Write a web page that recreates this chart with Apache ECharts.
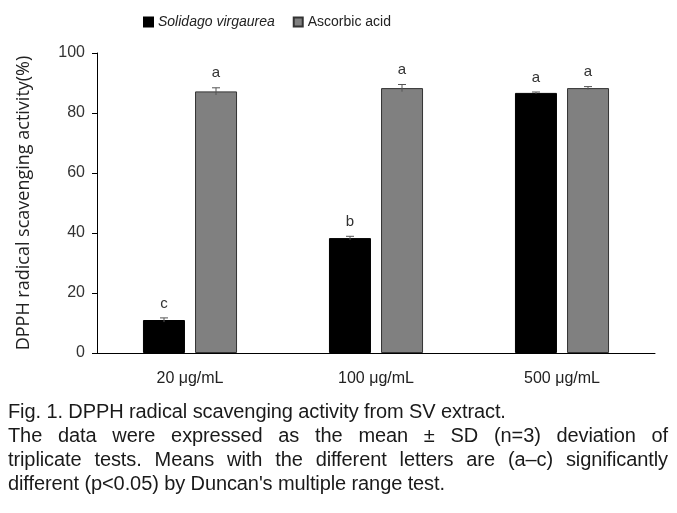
<!DOCTYPE html>
<html><head><meta charset="utf-8">
<script src="https://cdn.jsdelivr.net/npm/echarts@6/dist/echarts.min.js"></script>
<style>
html,body{margin:0;padding:0;background:#fff;}
#c{width:677px;height:400px;}
#cap{position:absolute;left:8px;top:399px;width:660px;font-family:"Liberation Sans",sans-serif;font-size:20px;line-height:24px;color:#1a1a1a;letter-spacing:-0.1px;}
#cap div{text-align:justify;text-align-last:justify;white-space:nowrap;}
#cap div.l{text-align-last:left;}
</style></head>
<body>
<div id="c"></div>
<div id="cap">
<div class="l">Fig. 1. DPPH radical scavenging activity from SV extract.</div>
<div>The data were expressed as the mean ± SD (n=3) deviation of</div>
<div>triplicate tests. Means with the different letters are (a–c) significantly</div>
<div class="l">different (p&lt;0.05) by Duncan's multiple range test.</div>
</div>
<script>
var categories = ['20 μg/mL', '100 μg/mL', '500 μg/mL'];
var svValues = [11.0, 38.3, 86.7];
var svErrors = [0.7, 0.6, 0.3];
var svLetters = ['c', 'b', 'a'];
var aaValues = [87.2, 88.3, 88.3];
var aaErrors = [1.2, 1.2, 0.5];
var aaLetters = ['a', 'a', 'a'];
var yTicks = [0, 20, 40, 60, 80, 100];

var chart = echarts.init(document.getElementById('c'));
var font = '"Liberation Sans", sans-serif';
var BW = 42, OFF = 26;

function errSeries(vals, errs, letters, sign) {
  var data = vals.map(function (v, i) { return [i, v, errs[i], letters[i]]; });
  return {
    type: 'custom',
    silent: true,
    z: 5,
    data: data,
    renderItem: function (params, api) {
      var i = api.value(0), v = api.value(1), e = api.value(2);
      var p = api.coord([i, v]);
      var x = p[0] + sign * OFF;
      var top = api.coord([i, v + e])[1];
      var bot = api.coord([i, v - e])[1];
      var st = { stroke: '#555', lineWidth: 1 };
      return {
        type: 'group',
        children: [
          { type: 'line', shape: { x1: x, y1: top, x2: x, y2: bot }, style: st },
          { type: 'line', shape: { x1: x - 4, y1: top, x2: x + 4, y2: top }, style: st },
          { type: 'text', style: { text: data[params.dataIndex][3], x: x, y: top - 7, align: 'center', verticalAlign: 'bottom', font: '15px ' + font, fill: '#333' } }
        ]
      };
    }
  };
}

chart.setOption({
  animation: false,
  backgroundColor: '#fff',
  legend: {
    top: 10,
    left: 138,
    itemWidth: 9, itemHeight: 9, itemGap: 18,
    textStyle: { fontFamily: font, fontSize: 14, color: '#222', rich: { i: { fontStyle: 'italic', fontFamily: font, fontSize: 14, color: '#222' } } },
    formatter: function (n) { return n === 'Solidago virgaurea' ? '{i|' + n + '}' : n; },
    data: [
      { name: 'Solidago virgaurea', icon: 'rect' },
      { name: 'Ascorbic acid', icon: 'rect' }
    ]
  },
  grid: { left: 97, right: 22, top: 53, bottom: 47 },
  xAxis: {
    type: 'category',
    data: categories,
    axisLine: { lineStyle: { color: '#000', width: 1 } },
    axisTick: { inside: true, length: 5, lineStyle: { color: '#000' } },
    axisLabel: { fontFamily: font, fontSize: 16, color: '#222', margin: 18 }
  },
  yAxis: {
    type: 'value',
    min: 0, max: 100, interval: 20,
    name: 'DPPH radical scavenging activity(%)',
    nameLocation: 'middle',
    nameGap: 64,
    nameTextStyle: { fontFamily: '"Open Sans", sans-serif', fontSize: 18, color: '#222' },
    splitLine: { show: false },
    axisLine: { show: true, lineStyle: { color: '#000', width: 1 } },
    axisTick: { show: true, length: 5, lineStyle: { color: '#000' } },
    axisLabel: { fontFamily: font, fontSize: 16, color: '#333', margin: 12,
      formatter: function (v) { return yTicks.indexOf(v) >= 0 ? String(v) : ''; } }
  },
  series: [
    { name: 'Solidago virgaurea', type: 'bar', data: svValues, barWidth: BW, barGap: '24%',
      itemStyle: { color: '#000', borderColor: '#000', borderWidth: 1 } },
    { name: 'Ascorbic acid', type: 'bar', data: aaValues, barWidth: BW, barGap: '24%',
      itemStyle: { color: '#808080', borderColor: '#333', borderWidth: 1 } },
    errSeries(svValues, svErrors, svLetters, -1),
    errSeries(aaValues, aaErrors, aaLetters, 1)
  ]
});
</script>
</body></html>
